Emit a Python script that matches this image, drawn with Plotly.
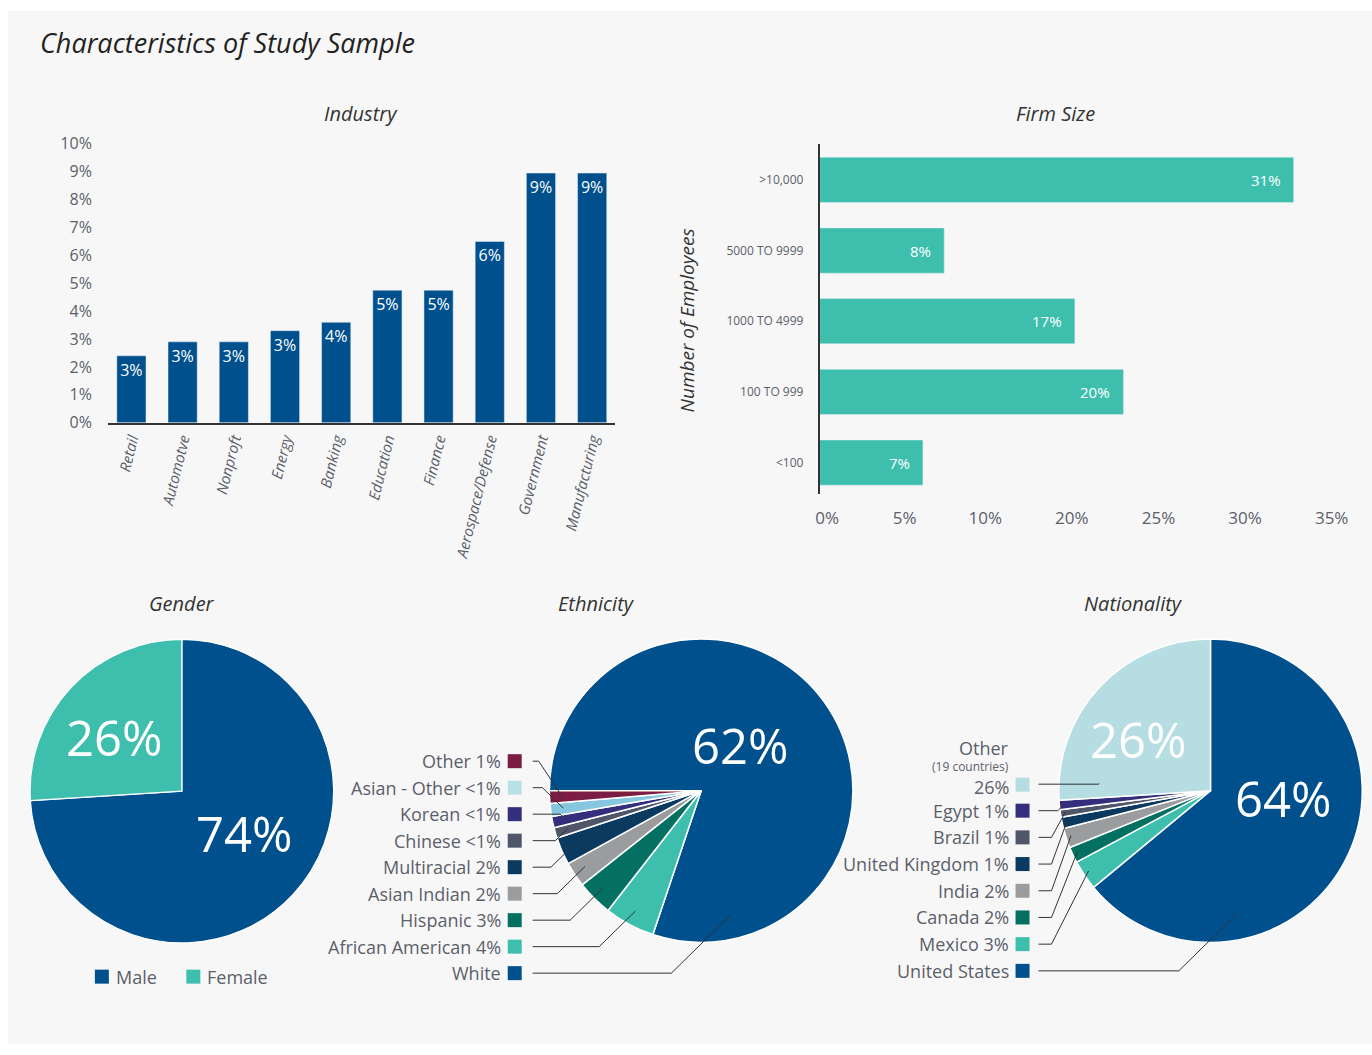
import math
import plotly.graph_objects as go

W, H = 1372, 1055
FONT = "Open Sans"
TXT = "#5b5f6b"

# ---------------- data ----------------
main_title = "Characteristics of Study Sample"

industry_names = ["Retail", "Automotve", "Nonproft", "Energy", "Banking", "Education",
                  "Finance", "Aerospace/Defense", "Government", "Manufacturing"]
industry_values = [2.4, 2.9, 2.9, 3.3, 3.6, 4.75, 4.75, 6.5, 8.95, 8.95]
industry_labels = ["3%", "3%", "3%", "3%", "4%", "5%", "5%", "6%", "9%", "9%"]
industry_ticks = [0, 1, 2, 3, 4, 5, 6, 7, 8, 9, 10]

firm_cats = ["<100", "100 TO 999", "1000 TO 4999", "5000 TO 9999", ">10,000"]
firm_tick_text_y = ["&lt;100", "100 TO 999", "1000 TO 4999", "5000 TO 9999", "&gt;10,000"]
firm_values = [6.8, 20.0, 16.8, 8.2, 31.2]
firm_labels = ["7%", "20%", "17%", "8%", "31%"]
firm_tick_pos = [0.5, 5.6, 10.9, 16.6, 22.3, 28.0, 33.7]
firm_tick_text = ["0%", "5%", "10%", "20%", "25%", "30%", "35%"]

gender_names = ["Male", "Female"]
gender_values = [74, 26]
gender_text = ["74%", "26%"]
gender_colors = ["#00508e", "#3ebfae"]

# clockwise order starting with White
eth_names = ["White", "African American", "Hispanic", "Asian Indian", "Multiracial",
             "Chinese", "Korean", "Asian - Other", "Other"]
eth_values = [61.7, 4.13, 2.95, 2.05, 2.27, 0.86, 0.92, 1.07, 1.03]
eth_pct = ["", "4%", "3%", "2%", "2%", "&lt;1%", "&lt;1%", "&lt;1%", "1%"]
eth_text = ["62%", "", "", "", "", "", "", "", ""]
eth_colors = ["#00508e", "#3ebfae", "#047062", "#9b9c9e", "#0b3a60",
              "#50566a", "#332f7c", "#86c7df", "#7b1d44"]
eth_key_colors = ["#00508e", "#3ebfae", "#047062", "#9b9c9e", "#0b3a60",
                  "#50566a", "#332f7c", "#b9e0e5", "#7b1d44"]

# clockwise order starting with United States
nat_names = ["United States", "Mexico", "Canada", "India", "United Kingdom",
             "Brazil", "Egypt", "Other"]
nat_values = [64, 3.2, 1.7, 2.1, 1.2, 0.8, 1.0, 26]
nat_pct = ["", "3%", "2%", "2%", "1%", "1%", "1%", "26%"]
nat_text = ["64%", "", "", "", "", "", "", "26%"]
nat_colors = ["#00508e", "#3ebfae", "#047062", "#9b9c9e", "#0b3a60",
              "#50566a", "#332f7c", "#b5dde2"]
nat_other_note = "(19 countries)"

# ---------------- layout geometry (target pixels) ----------------
# correction for the way the page is photographed
PX0, PSX = 3.1, 0.99744
PY0, PSY = 10.2, 0.9793


def X(x):
    return (x - PX0) / PSX


def Y(y):
    return (y - PY0) / PSY


def px(x):
    return X(x) / W


def py(y):
    return 1 - Y(y) / H


R_SET = 155.0


def pie_geom(cx, cy):
    return X(cx), Y(cy), R_SET


def pie_domain(cxs, cys, R):
    return dict(x=[(cxs - R) / W, (cxs + R) / W], y=[1 - (cys + R) / H, 1 - (cys - R) / H])


def slice_point(values, rotation, idx, frac, rfrac, cxs, cys, R):
    tot = float(sum(values))
    a = rotation + 360.0 * (sum(values[:idx]) + values[idx] * frac) / tot
    r = math.radians(a)
    return cxs + rfrac * R * math.sin(r), cys - rfrac * R * math.cos(r)


fig = go.Figure()

# industry bars
fig.add_trace(go.Bar(
    x=industry_names, y=industry_values, text=industry_labels,
    textposition="inside", insidetextanchor="end", constraintext="none",
    textfont=dict(color="white", size=16, family=FONT),
    marker=dict(color="#00508e"), xaxis="x", yaxis="y", hoverinfo="skip",
    showlegend=False))

# firm size bars
fig.add_trace(go.Bar(
    x=firm_values, y=firm_cats, orientation="h", width=0.64,
    marker=dict(color="#3ebfae"), xaxis="x2", yaxis="y2", hoverinfo="skip",
    showlegend=False))

# pies
G = pie_geom(181, 790.5)
E = pie_geom(700.5, 790)
N = pie_geom(1210, 790)
E_ROT = 270
pie_common = dict(sort=False, direction="clockwise", textinfo="none",
                  hoverinfo="skip", showlegend=False)

fig.add_trace(go.Pie(labels=gender_names, values=gender_values,
                     rotation=0, marker=dict(colors=gender_colors, line=dict(color="white", width=1.2)),
                     domain=pie_domain(*G), **pie_common))
fig.add_trace(go.Pie(labels=eth_names, values=eth_values,
                     rotation=E_ROT, marker=dict(colors=eth_colors, line=dict(color="white", width=1.5)),
                     domain=pie_domain(*E), **pie_common))
fig.add_trace(go.Pie(labels=nat_names, values=nat_values,
                     rotation=0, marker=dict(colors=nat_colors, line=dict(color="white", width=1.5)),
                     domain=pie_domain(*N), **pie_common))

shapes = []
annotations = []

# background panel
shapes.append(dict(type="rect", xref="paper", yref="paper", x0=px(7), x1=1,
                   y0=0, y1=1, fillcolor="#f7f7f7", line=dict(width=0), layer="below"))


def add_text(x, y, text, size=18, color=TXT, anchor="center", italic=False, angle=0):
    annotations.append(dict(x=px(x), y=py(y), xref="paper", yref="paper", text=text,
                            showarrow=False, xanchor=anchor, yanchor="middle",
                            textangle=angle, borderpad=0,
                            font=dict(family=FONT, size=size, color=color,
                                      style="italic" if italic else "normal")))


def add_text_set(xs, ys, text, size):
    annotations.append(dict(x=xs / W, y=1 - ys / H, xref="paper", yref="paper", text=text,
                            showarrow=False, xanchor="center", yanchor="middle", borderpad=0,
                            font=dict(family=FONT, size=size, color="white")))


def add_key(x, y, color, s=14):
    shapes.append(dict(type="rect", xref="paper", yref="paper",
                       x0=px(x), x1=px(x + s), y0=py(y + s / 2), y1=py(y - s / 2),
                       fillcolor=color, line=dict(width=0)))


def add_leader(sx, ly, ex, ey, min_run):
    sxs, lys = X(sx), Y(ly)
    elbow = max(sxs + min_run, ex - abs(ey - lys))
    path = "M {} {} L {} {} L {} {}".format(sxs / W, 1 - lys / H, elbow / W, 1 - lys / H,
                                              ex / W, 1 - ey / H)
    shapes.append(dict(type="path", xref="paper", yref="paper", path=path,
                       line=dict(color="#333333", width=1)))


# titles
add_text(38, 42, main_title, size=27, color="#222222", anchor="left", italic=True)
add_text(360, 113, "Industry", size=20, color="#333333", italic=True)
add_text(1055, 113, "Firm Size", size=20, color="#333333", italic=True)
add_text(181, 603, "Gender", size=20, color="#333333", italic=True)
add_text(596, 603, "Ethnicity", size=20, color="#333333", italic=True)
add_text(1133, 603, "Nationality", size=20, color="#333333", italic=True)
add_text(686, 320, "Number of Employees", size=19, color="#333333", italic=True, angle=-90)

# firm bar labels
for v, c, lab in zip(firm_values, firm_cats, firm_labels):
    annotations.append(dict(x=v, y=c, xref="x2", yref="y2", text=lab, showarrow=False,
                            xanchor="right", yanchor="middle", xshift=-11,
                            font=dict(family=FONT, size=15, color="white")))

# pie percentage labels: (trace values, rotation, geometry, texts, placement within slice)
pie_label_place = [
    (gender_values, 0, G, gender_text, {0: (0.467, 0.49), 1: (0.456, 0.563)}),
    (eth_values, E_ROT, E, eth_text, {0: (0.4525, 0.396)}),
    (nat_values, 0, N, nat_text, {0: (0.415, 0.472), 7: (0.424, 0.573)}),
]
for vals, rot, geom, texts, place in pie_label_place:
    for idx, (f, rf) in place.items():
        xs, ys = slice_point(vals, rot, idx, f, rf, *geom)
        add_text_set(xs, ys, texts[idx], 49)

# gender key
add_key(94, 976, gender_colors[0])
add_text(114, 976, gender_names[0], size=18, anchor="left")
add_key(185.5, 976, gender_colors[1])
add_text(205, 976, gender_names[1], size=18, anchor="left")

# ethnicity list (top to bottom = reverse of clockwise order)
n = len(eth_names)
for row, idx in enumerate(reversed(range(n))):
    ly = 760.5 + 26.5 * row
    label = eth_names[idx] + (" " + eth_pct[idx] if eth_pct[idx] else "")
    add_text(501, ly, label, size=18, anchor="right")
    add_key(507, ly, eth_key_colors[idx])
    if idx == 0:
        ex, ey = slice_point(eth_values, E_ROT, idx, 0.89, 0.84, *E)
    else:
        ex, ey = slice_point(eth_values, E_ROT, idx, 0.5, 0.9, *E)
    add_leader(532, ly, ex, ey, 6)

# nationality list
m = len(nat_names)
other = m - 1
add_text(1009, 747, nat_names[other], size=18, anchor="right")
add_text(1009, 766, nat_other_note, size=12, anchor="right")
add_text(1009, 786, nat_pct[other], size=18, anchor="right")
add_key(1015, 784, nat_colors[other])
ex, ey = slice_point(nat_values, 0, other, 0.08, 0.72, *N)
add_leader(1038, 783.5, ex, ey, 13)
for row, idx in enumerate(reversed(range(m - 1))):
    ly = 810 + 26.7 * row
    label = nat_names[idx] + (" " + nat_pct[idx] if nat_pct[idx] else "")
    add_text(1009, ly, label, size=18, anchor="right")
    add_key(1015, ly, nat_colors[idx])
    if idx == 0:
        ex, ey = slice_point(nat_values, 0, idx, 0.73, 0.83, *N)
    else:
        ex, ey = slice_point(nat_values, 0, idx, 0.5, 0.95, *N)
    add_leader(1038, ly, ex, ey, 13)

fig.update_layout(
    width=W, height=H, margin=dict(l=0, r=0, t=0, b=0), autosize=False,
    paper_bgcolor="white", plot_bgcolor="rgba(0,0,0,0)",
    font=dict(family=FONT, color=TXT),
    bargap=0.43,
    shapes=shapes, annotations=annotations,
    xaxis=dict(domain=[px(107), px(614)], range=[-0.46, 9.44], showgrid=False,
               zeroline=False, showline=True, linecolor="#333333", linewidth=1.5,
               tickangle=-76, ticks="",
               tickfont=dict(family=FONT, size=15, color=TXT, style="italic"),
               anchor="y"),
    yaxis=dict(domain=[py(422), py(143)], range=[0, 10], showgrid=False, zeroline=False,
               showline=False, tickvals=industry_ticks,
               ticktext=[f"{t}%" for t in industry_ticks], ticks="",
               ticklabelstandoff=15,
               tickfont=dict(family=FONT, size=16, color=TXT), anchor="x"),
    xaxis2=dict(domain=[px(819), px(819 + 35.5 * 15.2)], range=[0, 35.5], showgrid=False,
                zeroline=False, showline=False, tickvals=firm_tick_pos,
                ticktext=firm_tick_text, ticks="", ticklabelstandoff=12,
                tickfont=dict(family=FONT, size=17, color=TXT), anchor="y2"),
    yaxis2=dict(domain=[py(493), py(143)], range=[-0.44, 4.51], showgrid=False,
                zeroline=False, showline=True, linecolor="#333333", linewidth=1.5,
                categoryorder="array", categoryarray=firm_cats,
                tickvals=firm_cats, ticktext=firm_tick_text_y, ticks="",
                ticklabelstandoff=12,
                tickfont=dict(family=FONT, size=12, color=TXT), anchor="x2"),
)

post = ("document.documentElement.style.margin='0';document.documentElement.style.padding='0';"
        "document.body.style.margin='0';document.body.style.padding='0';"
        "document.body.style.overflow='hidden';"
        "var gd=document.getElementById('{plot_id}');"
        "gd.style.position='fixed';gd.style.left='0px';gd.style.top='0px';")

fig.write_html("out.html", config={"displayModeBar": False}, post_script=post)
